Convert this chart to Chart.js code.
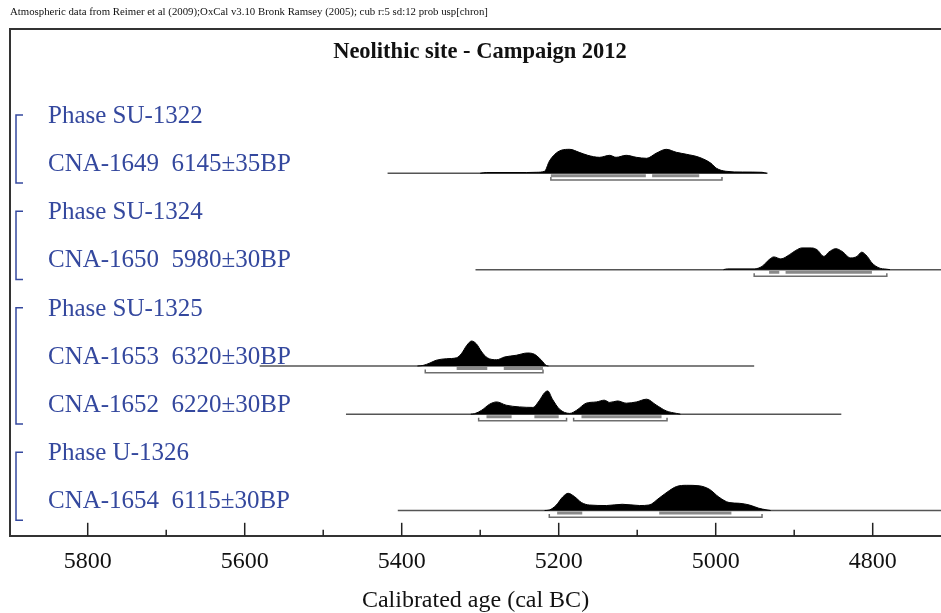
<!DOCTYPE html>
<html>
<head>
<meta charset="utf-8">
<script src="https://cdn.jsdelivr.net/npm/chart.js@4.4.1/dist/chart.umd.min.js"></script>
<style>
  html, body { margin: 0; padding: 0; background: #fff; }
  #wrap { width: 941px; height: 613px; }
</style>
</head>
<body>
<div id="wrap"><canvas id="oxcal"></canvas></div>
<script>
// text lines down the left side, top to bottom
let rowLabels = [
  "Phase SU-1322",
  "CNA-1649  6145\u00b135BP",
  "Phase SU-1324",
  "CNA-1650  5980\u00b130BP",
  "Phase SU-1325",
  "CNA-1653  6320\u00b130BP",
  "CNA-1652  6220\u00b130BP",
  "Phase U-1326",
  "CNA-1654  6115\u00b130BP",
];
// phase brackets: first and last line of each group
let phaseGroups = [[0, 1], [2, 3], [4, 6], [7, 8]];

// which text line each sample sits on
let sampleRows = [1, 3, 5, 6, 8];

// calibrated probability (cal BC), relative height
let cna1649Years = [5300, 5292, 5241, 5228, 5218, 5212, 5205, 5197, 5186, 5174, 5163, 5148, 5135, 5127, 5114, 5101, 5088, 5076, 5063, 5050, 5037, 5021, 5006, 4999, 4987, 4966, 4941, 4935];
let cna1649Prob  = [0, 3, 3, 4, 8, 48, 76, 92, 96, 84, 72, 64, 72, 64, 72, 64, 60, 80, 96, 84, 76, 64, 40, 20, 8, 5, 4, 0];

let cna1650Years = [4990, 4985, 4951, 4941, 4932, 4926, 4917, 4906, 4898, 4890, 4878, 4871, 4862, 4856, 4847, 4839, 4828, 4820, 4814, 4807, 4801, 4792, 4783, 4778];
let cna1650Prob  = [0, 3, 3, 13, 40, 51, 43, 60, 77, 87, 87, 80, 53, 70, 84, 73, 47, 53, 70, 53, 27, 7, 2, 0];

let cna1653Years = [5380, 5373, 5364, 5356, 5343, 5330, 5324, 5317, 5311, 5305, 5298, 5291, 5279, 5269, 5254, 5240, 5231, 5222, 5216, 5213];
let cna1653Prob  = [0, 2, 12, 23, 29, 33, 49, 83, 100, 89, 56, 33, 25, 36, 43, 52, 47, 23, 2, 0];

let cna1652Years = [5312, 5307, 5298, 5288, 5279, 5267, 5250, 5233, 5225, 5218, 5214, 5208, 5199, 5186, 5177, 5165, 5152, 5142, 5135, 5125, 5114, 5101, 5088, 5076, 5063, 5050, 5045];
let cna1652Prob  = [0, 2, 16, 40, 49, 36, 29, 27, 53, 86, 93, 60, 20, 3, 16, 44, 49, 56, 47, 53, 44, 49, 60, 37, 13, 3, 0];

let cna1654Years = [5218, 5212, 5203, 5195, 5188, 5180, 5171, 5161, 5139, 5119, 5097, 5085, 5072, 5059, 5050, 5037, 5021, 5008, 4996, 4983, 4970, 4957, 4945, 4936, 4930];
let cna1654Prob  = [0, 2, 22, 54, 69, 56, 32, 22, 20, 25, 20, 22, 50, 80, 96, 101, 99, 85, 54, 32, 29, 22, 9, 3, 0];

// full extent of each plotted line (cal BC)
let sampleExtents = [[5418, 4934], [5306, 4700], [5581, 4951], [5471, 4840], [5405, 4700]];

// 68.2% and 95.4% ranges (cal BC)
let ranges68 = [
  [[5210, 5089], [5081, 5021]],
  [[4932, 4919], [4911, 4801]],
  [[5330, 5291], [5270, 5220]],
  [[5292, 5260], [5231, 5200], [5171, 5069]],
  [[5202, 5170], [5072, 4980]],
];
let ranges95 = [
  [[5210, 4992]],
  [[4951, 4782]],
  [[5370, 5220]],
  [[5302, 5190], [5181, 5062]],
  [[5212, 4941]],
];

let sampleYears = [cna1649Years, cna1650Years, cna1653Years, cna1652Years, cna1654Years];
let sampleProbs = [cna1649Prob, cna1650Prob, cna1653Prob, cna1652Prob, cna1654Prob];

// x axis
let axisMin = 4713;
let axisMax = 5899;

// vertical layout in "text line" units
let yTop = 10.52;
let firstLine = 8.57;
let peakHeight = 0.518;

function lineY(i) { return firstLine - i; }
function baseY(i) { return firstLine - i - 0.045; }

let datasets = [];

// densities first so they sit on top
sampleYears.forEach(function (years, s) {
  let base = baseY(sampleRows[s]);
  datasets.push({
    data: years.map(function (yr, k) { return { x: yr, y: base + sampleProbs[s][k] / 100 * peakHeight }; }),
    borderColor: "#000",
    backgroundColor: "#000",
    borderWidth: 1,
    fill: { value: base },
    cubicInterpolationMode: "monotone",
    pointRadius: 0,
  });
});

// 68% ranges
ranges68.forEach(function (segs, s) {
  let y = baseY(sampleRows[s]) - 0.052;
  let pts = [];
  segs.forEach(function (r, k) {
    pts.push({ x: r[0], y: y }, { x: r[1], y: y });
    if (k < segs.length - 1) pts.push({ x: (r[1] + segs[k + 1][0]) / 2, y: null });
  });
  datasets.push({ data: pts, borderColor: "#8a8a8a", borderWidth: 3, pointRadius: 0, fill: false });
});

// 95% ranges with little upturned ends
ranges95.forEach(function (segs, s) {
  let b = baseY(sampleRows[s]);
  let lo = b - 0.139;
  let tip = b - 0.075;
  let pts = [];
  segs.forEach(function (r, k) {
    pts.push({ x: r[0], y: tip }, { x: r[0], y: lo }, { x: r[1], y: lo }, { x: r[1], y: tip });
    if (k < segs.length - 1) pts.push({ x: (r[1] + segs[k + 1][0]) / 2, y: null });
  });
  datasets.push({ data: pts, borderColor: "#6e6e6e", borderWidth: 1.5, pointRadius: 0, fill: false });
});

// background extent lines
sampleExtents.forEach(function (ext, s) {
  let b = baseY(sampleRows[s]);
  datasets.push({
    data: [{ x: ext[0], y: b }, { x: ext[1], y: b }],
    borderColor: "#555",
    borderWidth: 1.5,
    pointRadius: 0,
    fill: false,
  });
});

const serif = "'Liberation Serif', 'Times New Roman', serif";
const labelBlue = "#34489e";

let oxcalDecor = {
  id: "oxcalDecor",
  afterDraw: function (chart) {
    let ctx = chart.ctx;
    let area = chart.chartArea;
    let xs = chart.scales.x;
    let ys = chart.scales.y;
    ctx.save();

    // frame (top and left)
    ctx.strokeStyle = "#333";
    ctx.lineWidth = 2;
    ctx.beginPath();
    ctx.moveTo(area.left, area.bottom);
    ctx.lineTo(area.left, area.top);
    ctx.lineTo(area.right + 2, area.top);
    ctx.stroke();

    // ticks pointing up into the plot
    ctx.strokeStyle = "#222";
    ctx.lineWidth = 1.5;
    xs.ticks.forEach(function (t) {
      let px = xs.getPixelForValue(t.value);
      let len = t.value % 200 === 0 ? 13 : 6;
      ctx.beginPath();
      ctx.moveTo(px, area.bottom);
      ctx.lineTo(px, area.bottom - len);
      ctx.stroke();
    });

    // caption above the frame
    ctx.fillStyle = "#111";
    ctx.font = "10.8px " + serif;
    ctx.textBaseline = "middle";
    ctx.textAlign = "left";
    ctx.fillText("Atmospheric data from Reimer et al (2009);OxCal v3.10 Bronk Ramsey (2005); cub r:5 sd:12 prob usp[chron]", 10, 12);

    // title inside the frame
    ctx.font = "bold 22.5px " + serif;
    ctx.textAlign = "center";
    ctx.fillText("Neolithic site - Campaign 2012", 480, 52);

    // row labels
    ctx.fillStyle = labelBlue;
    ctx.font = "25px " + serif;
    ctx.textAlign = "left";
    ctx.textBaseline = "alphabetic";
    rowLabels.forEach(function (txt, i) {
      ctx.fillText(txt, 48, ys.getPixelForValue(lineY(i)));
    });

    // phase brackets
    ctx.strokeStyle = labelBlue;
    ctx.lineWidth = 1.5;
    phaseGroups.forEach(function (g) {
      let top = ys.getPixelForValue(lineY(g[0])) - 8;
      let bot = ys.getPixelForValue(lineY(g[1])) + 12;
      ctx.beginPath();
      ctx.moveTo(23, top);
      ctx.lineTo(16, top);
      ctx.lineTo(16, bot);
      ctx.lineTo(23, bot);
      ctx.stroke();
    });

    ctx.restore();
  },
};

new Chart(document.getElementById("oxcal").getContext("2d"), {
  type: "line",
  data: { datasets: datasets },
  options: {
    responsive: true,
    maintainAspectRatio: false,
    animation: false,
    events: [],
    layout: { padding: { top: 29, left: 10, right: 0, bottom: 0 } },
    plugins: {
      legend: { display: false },
      tooltip: { enabled: false },
    },
    scales: {
      x: {
        type: "linear",
        reverse: true,
        min: axisMin,
        max: axisMax,
        grid: { display: false, drawTicks: false },
        border: { display: true, color: "#333", width: 2 },
        ticks: {
          stepSize: 100,
          includeBounds: false,
          padding: 14,
          color: "#111",
          font: { family: serif, size: 24, lineHeight: 1 },
          maxRotation: 0,
          autoSkip: false,
          callback: function (v) { return v % 200 === 0 ? String(v) : ""; },
        },
        title: {
          display: true,
          text: "Calibrated age (cal BC)",
          color: "#111",
          font: { family: serif, size: 24, lineHeight: 1.05 },
          padding: { top: 0, bottom: 0 },
        },
      },
      y: {
        display: false,
        min: 0,
        max: yTop,
      },
    },
  },
  plugins: [oxcalDecor],
});
</script>
</body>
</html>
